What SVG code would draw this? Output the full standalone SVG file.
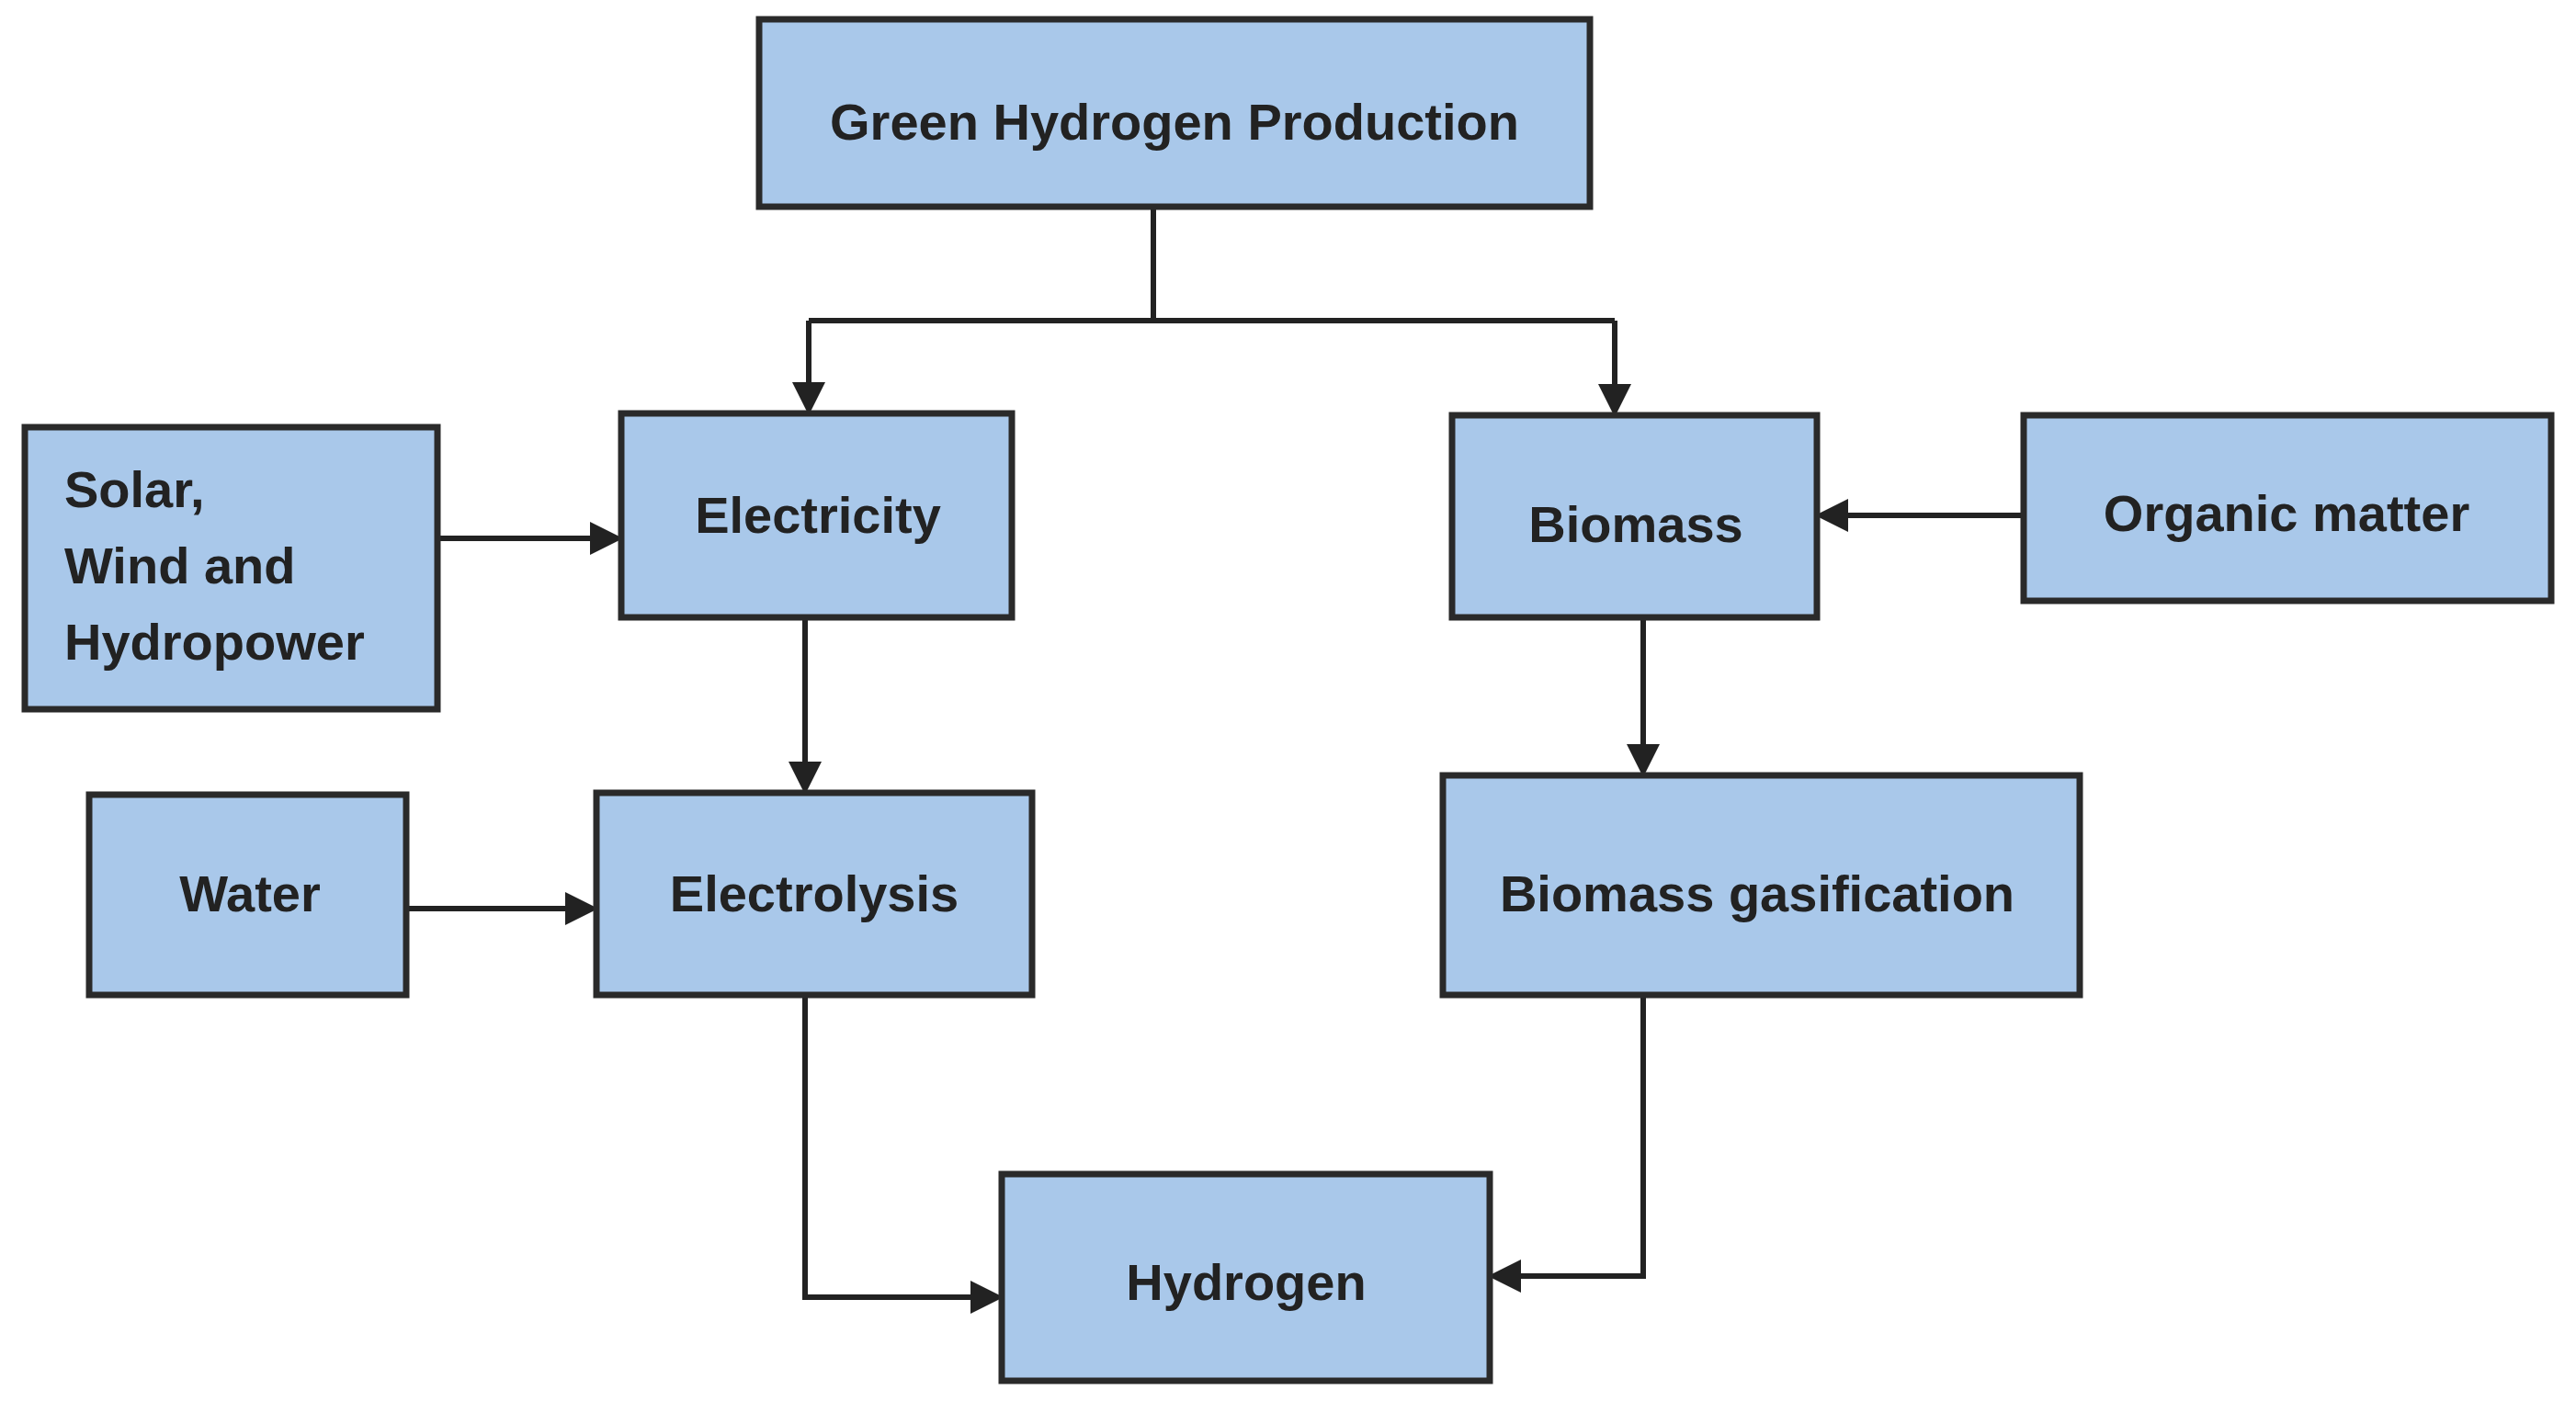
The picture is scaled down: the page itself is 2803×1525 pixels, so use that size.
<svg xmlns="http://www.w3.org/2000/svg" width="2803" height="1525" viewBox="0 0 2803 1525">
<defs>
<style>
.n rect{fill:#a9c8ea;stroke:#2a2a2a;stroke-width:7}
.n text{font-family:"Liberation Sans",Arial,sans-serif;font-weight:bold;font-size:56px;fill:#222}
.c path{fill:none;stroke:#222;stroke-width:6}
</style>
<marker id="a" markerWidth="6" markerHeight="6" refX="5" refY="3" orient="auto" markerUnits="strokeWidth"><path d="M0,0 L6,3 L0,6 z" fill="#222"/></marker>
</defs>
<rect width="2803" height="1525" fill="#fff"/>
<g class="c">
<path d="M1255,225 V349 M880,349 H1757"/>
<path d="M880,349 V446" marker-end="url(#a)"/>
<path d="M1757,349 V448" marker-end="url(#a)"/>
<path d="M476,586 H672" marker-end="url(#a)"/>
<path d="M876,672 V859" marker-end="url(#a)"/>
<path d="M442,989 H645" marker-end="url(#a)"/>
<path d="M2202,561 H1981" marker-end="url(#a)"/>
<path d="M1788,672 V840" marker-end="url(#a)"/>
<path d="M876,1083 V1412 H1086" marker-end="url(#a)"/>
<path d="M1788,1083 V1389 H1625" marker-end="url(#a)"/>
</g>
<g id="ghp" class="n"><rect x="826" y="21" width="904" height="204"/><text x="1278" y="152" text-anchor="middle">Green Hydrogen Production</text></g>
<g id="solar" class="n"><rect x="27" y="465" width="449" height="307"/><text x="70" y="552">Solar,</text><text x="70" y="635">Wind and</text><text x="70" y="718">Hydropower</text></g>
<g id="electricity" class="n"><rect x="676" y="450" width="425" height="222"/><text x="890" y="580" text-anchor="middle">Electricity</text></g>
<g id="biomass" class="n"><rect x="1580" y="452" width="397" height="220"/><text x="1780" y="590" text-anchor="middle">Biomass</text></g>
<g id="organic" class="n"><rect x="2202" y="452" width="574" height="202"/><text x="2488" y="578" text-anchor="middle">Organic matter</text></g>
<g id="water" class="n"><rect x="97" y="865" width="345" height="218"/><text x="272" y="992" text-anchor="middle">Water</text></g>
<g id="electrolysis" class="n"><rect x="649" y="863" width="474" height="220"/><text x="886" y="992" text-anchor="middle">Electrolysis</text></g>
<g id="gasification" class="n"><rect x="1570" y="844" width="693" height="239"/><text x="1912" y="992" text-anchor="middle">Biomass gasification</text></g>
<g id="hydrogen" class="n"><rect x="1090" y="1278" width="531" height="225"/><text x="1356" y="1415" text-anchor="middle">Hydrogen</text></g>
</svg>
